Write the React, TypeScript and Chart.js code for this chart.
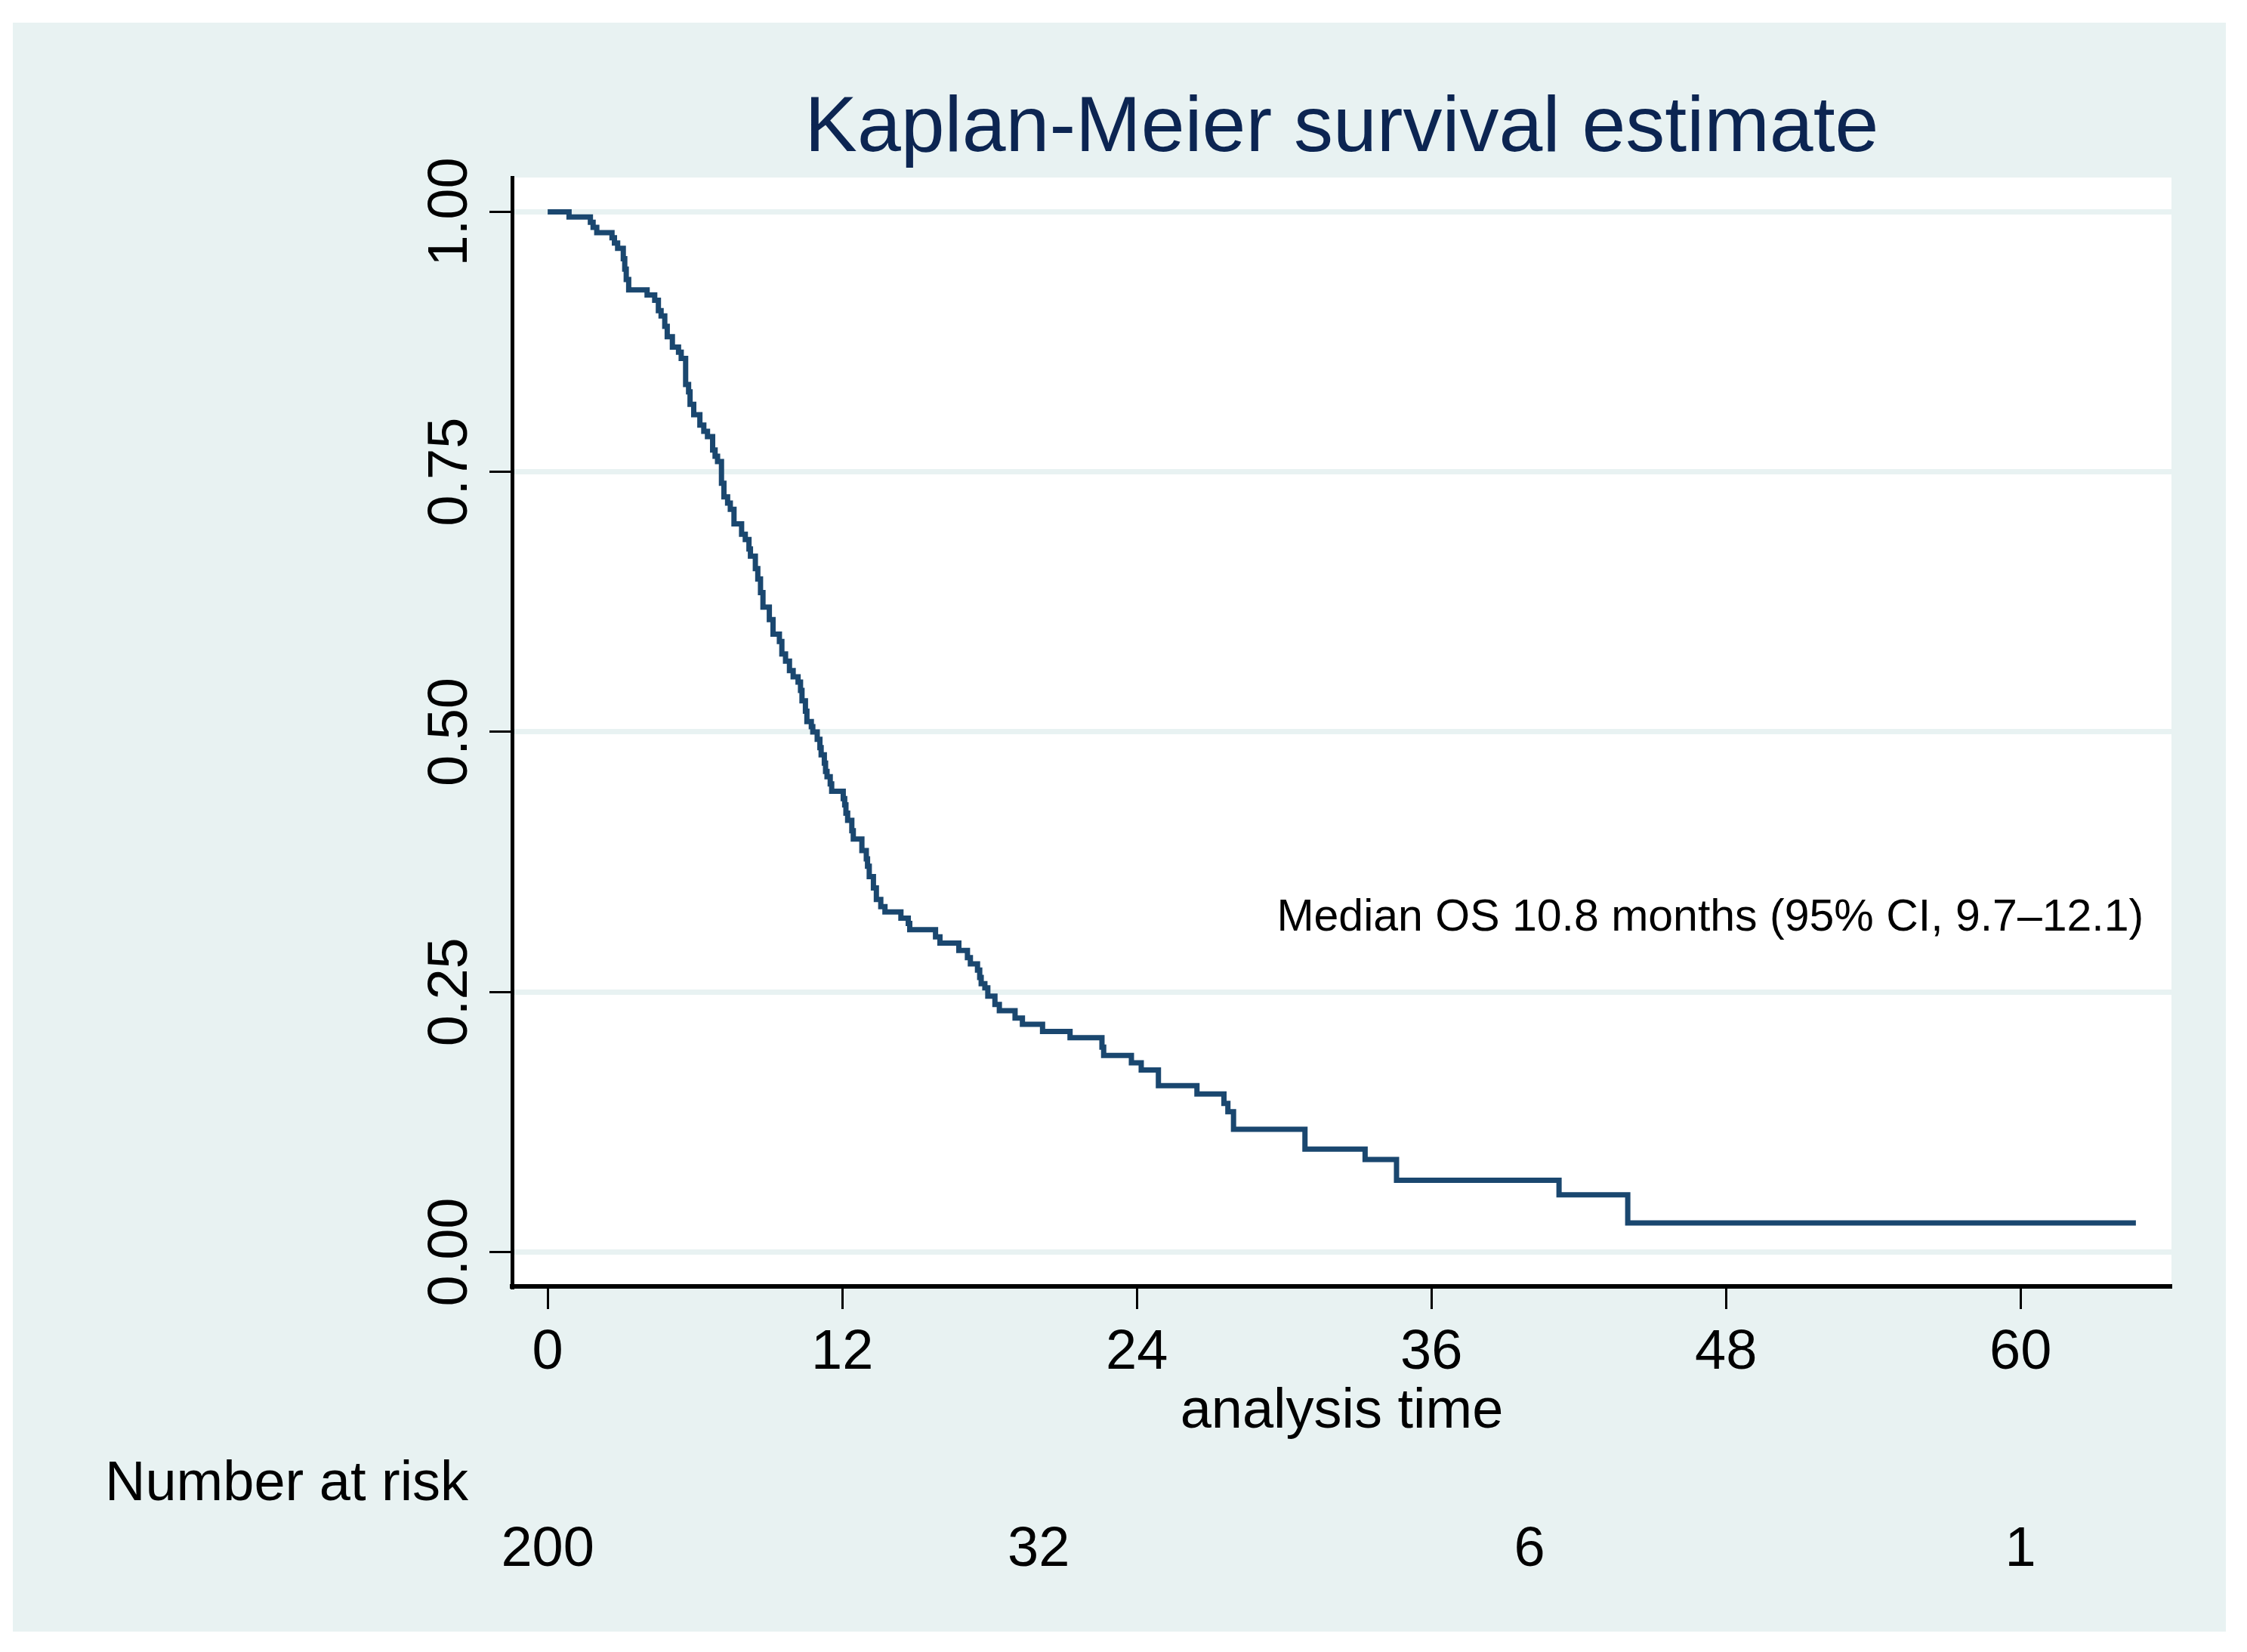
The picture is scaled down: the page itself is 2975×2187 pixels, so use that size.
import React, { useEffect, useRef } from "react";
import { Chart, registerables } from "chart.js";

Chart.register(...registerables);

// ---- data ----
const eventTimes = [
  0, 0.87, 1.74, 1.85, 2.0, 2.62, 2.72, 2.85, 3.08, 3.14, 3.2, 3.3, 4.05, 4.36, 4.51, 4.62, 4.77, 4.87,
  5.08, 5.33, 5.44, 5.62, 5.74, 5.8, 5.95, 6.2, 6.36, 6.51, 6.72, 6.82, 6.92, 7.08, 7.18, 7.33, 7.44,
  7.59, 7.9, 8.05, 8.2, 8.26, 8.46, 8.56, 8.67, 8.77, 9.03, 9.18, 9.44, 9.54, 9.69, 9.85, 10.0, 10.2,
  10.3, 10.36, 10.5, 10.56, 10.74, 10.8, 10.98, 11.09, 11.14, 11.27, 11.32, 11.38, 11.51, 11.57, 12.04,
  12.1, 12.15, 12.22, 12.39, 12.45, 12.8, 12.98, 13.03, 13.1, 13.27, 13.39, 13.57, 13.74, 14.39, 14.69,
  14.75, 15.8, 15.98, 16.75, 17.1, 17.22, 17.51, 17.6, 17.66, 17.81, 17.93, 18.22, 18.4, 19.04, 19.34,
  20.16, 21.28, 22.58, 22.65, 23.78, 24.18, 24.88, 26.45, 27.55, 27.71, 27.94, 30.85, 33.3, 34.58, 41.2,
  44.0, 64.7,
];
const survival = [
  1.0, 0.995, 0.99, 0.985, 0.98, 0.975, 0.97, 0.965, 0.955, 0.945, 0.935, 0.925, 0.92, 0.915, 0.905,
  0.9, 0.89, 0.88, 0.87, 0.865, 0.859, 0.834, 0.827, 0.815, 0.805, 0.795, 0.789, 0.784, 0.771, 0.765,
  0.76, 0.739, 0.726, 0.72, 0.714, 0.7, 0.69, 0.685, 0.676, 0.669, 0.657, 0.647, 0.634, 0.62, 0.608,
  0.594, 0.587, 0.575, 0.568, 0.559, 0.553, 0.548, 0.54, 0.53, 0.52, 0.51, 0.505, 0.5, 0.493, 0.485,
  0.478, 0.47, 0.462, 0.457, 0.45, 0.443, 0.436, 0.43, 0.422, 0.415, 0.405, 0.397, 0.386, 0.378, 0.371,
  0.361, 0.35, 0.339, 0.332, 0.327, 0.321, 0.316, 0.31, 0.303, 0.297, 0.29, 0.283, 0.277, 0.271, 0.264,
  0.258, 0.254, 0.246, 0.238, 0.232, 0.225, 0.219, 0.212, 0.206, 0.197, 0.189, 0.182, 0.175, 0.16,
  0.152, 0.143, 0.135, 0.118, 0.099, 0.089, 0.069, 0.055, 0.028, 0.028,
];
const xTicks = [0, 12, 24, 36, 48, 60];
const yTicks = [0, 0.25, 0.5, 0.75, 1];
const yTickLabels = ["0.00", "0.25", "0.50", "0.75", "1.00"];
const riskTimes = [0, 20, 40, 60];
const riskCounts = ["200", "32", "6", "1"];
const titleText = "Kaplan-Meier survival estimate";
const xAxisTitle = "analysis time";
const riskTitle = "Number at risk";
const annotationText = "Median OS 10.8 months (95% CI, 9.7\u201312.1)";
const annotationPos = { x: 29.7, y: 0.309 };

const BG = "#e8f2f2";
const LINE = "#1a476f";
const TITLE = "#0c2552";
const FONT = '"Liberation Sans", Arial, sans-serif';

export default function App() {
  const ref = useRef<HTMLCanvasElement | null>(null);

  useEffect(() => {
    document.body.style.margin = "0";
    document.body.style.overflow = "hidden";
    const canvas = ref.current;
    if (!canvas) return;

    const decor = {
      id: "decor",
      beforeDraw(chart: any) {
        const { ctx, chartArea } = chart;
        ctx.save();
        ctx.fillStyle = "#ffffff";
        ctx.fillRect(0, 0, chart.width, chart.height);
        ctx.fillStyle = BG;
        ctx.fillRect(17, 30, 2930, 2130);
        ctx.fillStyle = "#ffffff";
        ctx.fillRect(chartArea.left, chartArea.top, chartArea.right - chartArea.left, chartArea.bottom - chartArea.top);
        ctx.restore();
      },
      afterDraw(chart: any) {
        const { ctx, chartArea, scales } = chart;
        const cx = (chartArea.left + chartArea.right) / 2;
        ctx.save();
        // title
        ctx.fillStyle = TITLE;
        ctx.font = `104px ${FONT}`;
        ctx.textAlign = "center";
        ctx.textBaseline = "alphabetic";
        ctx.fillText(titleText, cx, 200);
        // y tick labels rotated
        ctx.fillStyle = "#000";
        ctx.font = `74px ${FONT}`;
        yTicks.forEach((v, i) => {
          const y = scales.y.getPixelForValue(v);
          ctx.save();
          ctx.translate(chartArea.left - 60, y);
          ctx.rotate(-Math.PI / 2);
          ctx.textAlign = "center";
          ctx.textBaseline = "alphabetic";
          ctx.fillText(yTickLabels[i], 0, 0);
          ctx.restore();
        });
        // x axis title
        ctx.textAlign = "center";
        ctx.fillText(xAxisTitle, cx, 1890);
        // number at risk
        ctx.textAlign = "left";
        ctx.fillText(riskTitle, 139, 1986);
        ctx.textAlign = "center";
        riskTimes.forEach((t, i) => {
          ctx.fillText(riskCounts[i], scales.x.getPixelForValue(t), 2073);
        });
        // annotation
        ctx.font = `59px ${FONT}`;
        ctx.textAlign = "left";
        ctx.fillText(annotationText, scales.x.getPixelForValue(annotationPos.x), scales.y.getPixelForValue(annotationPos.y));
        ctx.restore();
      },
    };

    const chart = new Chart(canvas, {
      type: "line",
      data: {
        datasets: [
          {
            data: eventTimes.map((t, i) => ({ x: t, y: survival[i] })),
            stepped: true,
            borderColor: LINE,
            borderWidth: 7,
            pointRadius: 0,
            fill: false,
            borderJoinStyle: "miter",
            borderCapStyle: "butt",
          },
        ],
      },
      options: {
        responsive: false,
        animation: false,
        devicePixelRatio: 1,
        layout: { padding: { top: 235, right: 100, left: 0, bottom: 0 } },
        plugins: { legend: { display: false }, tooltip: { enabled: false }, title: { display: false } },
        scales: {
          x: {
            type: "linear",
            min: -1.45,
            max: 66.15,
            afterBuildTicks: (s: any) => {
              s.ticks = xTicks.map((v) => ({ value: v }));
            },
            afterFit: (s: any) => {
              s.height = 484;
            },
            grid: {
              drawOnChartArea: false,
              drawTicks: true,
              tickLength: 30,
              tickWidth: 3,
              tickColor: "#000",
            },
            border: { display: true, color: "#000", width: 6 },
            ticks: {
              color: "#000",
              font: { family: FONT, size: 74 },
              padding: 14,
              maxRotation: 0,
              autoSkip: false,
            },
          },
          y: {
            type: "linear",
            min: -0.033,
            max: 1.033,
            afterBuildTicks: (s: any) => {
              s.ticks = yTicks.map((v) => ({ value: v }));
            },
            afterFit: (s: any) => {
              s.width = 678;
            },
            grid: {
              color: BG,
              lineWidth: 7,
              drawTicks: true,
              tickLength: 30,
              tickWidth: 3,
              tickColor: "#000",
            },
            border: { display: true, color: "#000", width: 5 },
            ticks: { display: false },
          },
        },
      },
      plugins: [decor],
    });
    return () => chart.destroy();
  }, []);

  return (
    <div style={{ position: "absolute", left: 0, top: 0, width: 2975, height: 2187 }}>
      <canvas ref={ref} width={2975} height={2187} style={{ width: 2975, height: 2187, display: "block" }} />
    </div>
  );
}
